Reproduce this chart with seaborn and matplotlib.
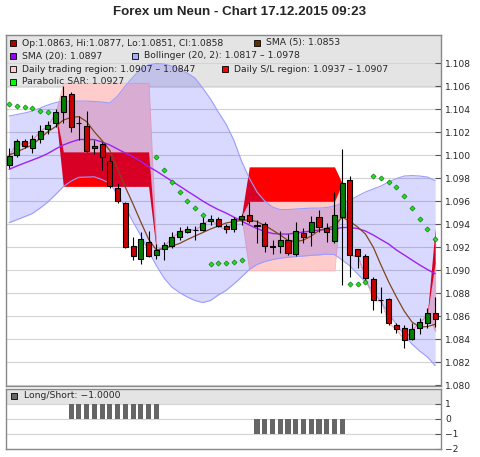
import numpy as np
import pandas as pd
import matplotlib
matplotlib.use("Agg")
import matplotlib.pyplot as plt
from matplotlib.patches import Rectangle
import seaborn as sns

sns.set_style("white")
plt.rcParams["font.family"] = ["DejaVu Sans"]

nan = np.nan

# Candles
opens = [1.09916, 1.10003, 1.10124, 1.10061, 1.10139, 1.10229, 1.10278, 1.10374, 1.10531, 1.10285,
         1.10257, 1.10063, 1.10096, 1.09950, 1.09713, 1.09585, 1.09211, 1.09095, 1.09246, 1.09133,
         1.09189, 1.09211, 1.09292, 1.09335, 1.09346, 1.09350, 1.09428, 1.09446, 1.09385, 1.09356,
         1.09443, 1.09481, 1.09392, 1.09400, 1.09215, 1.09211, 1.09263, 1.09141, 1.09321, 1.09335,
         1.09461, 1.09372, 1.09257, 1.09466, 1.09785, 1.09182, 1.09124, 1.08921, 1.08745, 1.08747,
         1.08524, 1.08495, 1.08399, 1.08495, 1.08538, 1.08630]
highs = [1.10061, 1.10139, 1.10142, 1.10177, 1.10264, 1.10298, 1.10400, 1.10603, 1.10548, 1.10342,
         1.10385, 1.10133, 1.10118, 1.09994, 1.09756, 1.09596, 1.09292, 1.09335, 1.09341, 1.09228,
         1.09246, 1.09335, 1.09374, 1.09385, 1.09385, 1.09489, 1.09481, 1.09461, 1.09402, 1.09466,
         1.09489, 1.09596, 1.09437, 1.09422, 1.09263, 1.09344, 1.09315, 1.09422, 1.09365, 1.09472,
         1.09524, 1.09408, 1.09683, 1.10052, 1.09820, 1.09185, 1.09141, 1.08939, 1.08857, 1.08756,
         1.08544, 1.08524, 1.08544, 1.08582, 1.08669, 1.08770]
lows = [1.09887, 1.09983, 1.10063, 1.10023, 1.10104, 1.10185, 1.10249, 1.10278, 1.10205, 1.10133,
        1.10029, 1.10011, 1.09872, 1.09713, 1.09588, 1.09193, 1.09089, 1.09052, 1.09115, 1.09098,
        1.09089, 1.09191, 1.09263, 1.09321, 1.09263, 1.09341, 1.09394, 1.09374, 1.09324, 1.09335,
        1.09394, 1.09408, 1.09237, 1.09161, 1.09141, 1.09147, 1.09133, 1.09124, 1.09234, 1.09211,
        1.09335, 1.09248, 1.09234, 1.08872, 1.08944, 1.09017, 1.08900, 1.08654, 1.08625, 1.08524,
        1.08451, 1.08321, 1.08393, 1.08443, 1.08495, 1.08510]
closes = [1.09996, 1.10124, 1.10081, 1.10139, 1.10214, 1.10261, 1.10374, 1.10518, 1.10249, 1.10277,
          1.10042, 1.10085, 1.09983, 1.09733, 1.09602, 1.09202, 1.09124, 1.09272, 1.09128, 1.09176,
          1.09217, 1.09287, 1.09341, 1.09356, 1.09353, 1.09408, 1.09446, 1.09385, 1.09356, 1.09443,
          1.09472, 1.09428, 1.09383, 1.09211, 1.09206, 1.09263, 1.09147, 1.09341, 1.09287, 1.09422,
          1.09374, 1.09333, 1.09481, 1.09756, 1.09133, 1.09124, 1.08930, 1.08741, 1.08737, 1.08538,
          1.08489, 1.08393, 1.08486, 1.08547, 1.08625, 1.08580]

# Indicators
sma5 = [1.10003, 1.10029, 1.10061, 1.10090, 1.10148, 1.10205, 1.10250, 1.10307, 1.10329, 1.10337,
        1.10294, 1.10205, 1.10129, 1.10042, 1.09881, 1.09724, 1.09576, 1.09420, 1.09272, 1.09176,
        1.09189, 1.09211, 1.09233, 1.09267, 1.09298, 1.09328, 1.09359, 1.09385, 1.09411, 1.09424,
        1.09433, 1.09437, 1.09424, 1.09389, 1.09350, 1.09307, 1.09259, 1.09248, 1.09263, 1.09298,
        1.09346, 1.09367, 1.09385, 1.09463, 1.09424, 1.09376, 1.09315, 1.09202, 1.09046, 1.08898,
        1.08767, 1.08645, 1.08550, 1.08506, 1.08510, 1.08530]
sma20 = [1.09878, 1.09907, 1.09933, 1.09959, 1.09985, 1.10016, 1.10055, 1.10090, 1.10116, 1.10137,
         1.10139, 1.10137, 1.10116, 1.10090, 1.10055, 1.10020, 1.09988, 1.09946, 1.09902, 1.09863,
         1.09820, 1.09776, 1.09733, 1.09689, 1.09646, 1.09602, 1.09563, 1.09528, 1.09498, 1.09463,
         1.09428, 1.09394, 1.09363, 1.09337, 1.09320, 1.09315, 1.09315, 1.09324, 1.09333, 1.09341,
         1.09350, 1.09354, 1.09359, 1.09372, 1.09372, 1.09363, 1.09341, 1.09307, 1.09267, 1.09228,
         1.09176, 1.09133, 1.09089, 1.09046, 1.09006, 1.08970]
bb_upper = [1.10342, 1.10355, 1.10368, 1.10385, 1.10411, 1.10438, 1.10459, 1.10472, 1.10472, 1.10472,
            1.10472, 1.10468, 1.10464, 1.10455, 1.10516, 1.10603, 1.10681, 1.10751, 1.10786, 1.10799,
            1.10794, 1.10777, 1.10751, 1.10716, 1.10672, 1.10585, 1.10490, 1.10377, 1.10272, 1.10133,
            1.09950, 1.09802, 1.09681, 1.09602, 1.09550, 1.09528, 1.09528, 1.09533, 1.09537, 1.09541,
            1.09541, 1.09546, 1.09559, 1.09585, 1.09611, 1.09646, 1.09681, 1.09707, 1.09733, 1.09768,
            1.09798, 1.09820, 1.09824, 1.09820, 1.09811, 1.09780]
bb_lower = [1.09414, 1.09440, 1.09466, 1.09494, 1.09541, 1.09594, 1.09659, 1.09728, 1.09776, 1.09809,
            1.09811, 1.09813, 1.09789, 1.09757, 1.09659, 1.09550, 1.09420, 1.09302, 1.09167, 1.09041,
            1.08932, 1.08854, 1.08806, 1.08767, 1.08737, 1.08719, 1.08737, 1.08785, 1.08824, 1.08880,
            1.08941, 1.09006, 1.09050, 1.09076, 1.09093, 1.09105, 1.09113, 1.09119, 1.09124, 1.09130,
            1.09134, 1.09141, 1.09137, 1.09089, 1.09037, 1.08967, 1.08898, 1.08815, 1.08724, 1.08624,
            1.08528, 1.08437, 1.08358, 1.08297, 1.08245, 1.08170]
sar = [1.10444, 1.10429, 1.10418, 1.10409, 1.10390, 1.10381, nan, nan, nan, nan,
       nan, nan, nan, nan, nan, nan, nan, nan, nan, 1.09985,
       1.09869, 1.09772, 1.09683, 1.09607, 1.09540, 1.09478, 1.09054, 1.09060, 1.09067, 1.09076,
       1.09089, nan, nan, nan, nan, nan, nan, nan, nan, nan,
       nan, nan, nan, nan, 1.08878, 1.08878, 1.08895, 1.09820, 1.09800, 1.09770,
       1.09722, 1.09646, 1.09539, 1.09443, 1.09356, 1.09270]
long_short = [0, 0, 0, 0, 0, 0, 0, 0, 1, 1, 1, 1, 1, 1, 1, 1, 1, 1, 1, 1,
              0, 0, 0, 0, 0, 0, 0, 0, 0, 0, 0, 0, -1, -1, -1, -1, -1, -1, -1, -1,
              -1, -1, -1, -1, 0, 0, 0, 0, 0, 0, 0, 0, 0, 0, 0, 0]

# Daily regions: first bar, last bar, trading region, S/L region
region_start = [7, 31, 55]
region_end = [18, 42, 55]
trade_hi = [1.1063, 1.0960, 1.0907]
trade_lo = [1.1003, 1.0900, 1.0847]
sl_hi = [1.1003, 1.0990, 1.0937]
sl_lo = [1.0973, 1.0960, 1.0907]

df = pd.DataFrame({"open": opens, "high": highs, "low": lows, "close": closes,
                   "sma5": sma5, "sma20": sma20, "bb_up": bb_upper, "bb_lo": bb_lower,
                   "sar": sar, "ls": long_short})
df["idx"] = np.arange(len(df))

# regions collapse onto the close where no region is set
for col in ["tr_hi", "tr_lo", "sl_hi", "sl_lo"]:
    df[col] = df["close"]
for s, e, th, tl, sh, sl in zip(region_start, region_end, trade_hi, trade_lo, sl_hi, sl_lo):
    df.loc[s:e, "tr_hi"] = th
    df.loc[s:e, "tr_lo"] = tl
    df.loc[s:e, "sl_hi"] = sh
    df.loc[s:e, "sl_lo"] = sl

W, H = 480, 457
fig = plt.figure(figsize=(W / 100, H / 100), dpi=100)
ax = fig.add_axes([6 / W, 1 - 386 / H, 435 / W, 351 / H])
ax2 = fig.add_axes([6 / W, 1 - 449 / H, 435 / W, 60.5 / H])

GRID = "#d4d4d4"
LEG_BG = "#e4e4e4"
SPINE = "#888888"

# ---- main panel
ax.axhspan(1.10585, 1.12, color=LEG_BG, lw=0, zorder=0)
ax.set_axisbelow(True)
ax.yaxis.grid(True, color=GRID, lw=0.8)

x = df["idx"]
ax.fill_between(x, df["tr_lo"], df["tr_hi"], facecolor="#ffcccc", edgecolor="#ffb8b8",
                lw=0.7, zorder=1)
ax.fill_between(x, df["sl_lo"], df["sl_hi"], facecolor="#ff0000", lw=0, zorder=1.1)
ax.fill_between(x, df["bb_lo"], df["bb_up"], color=(0, 0, 1), alpha=0.15, lw=0, zorder=2)
ax.plot(x, df["bb_up"], color="#9c9cff", lw=0.8, zorder=2.1)
ax.plot(x, df["bb_lo"], color="#9c9cff", lw=0.8, zorder=2.1)

sns.lineplot(x=x, y=df["sma20"], color="#a020f0", lw=1, ax=ax, zorder=3)
sns.lineplot(x=x, y=df["sma5"], color="#80461b", lw=0.9, ax=ax, zorder=3.1)

up = df["close"] >= df["open"]
body_lo = np.minimum(df["open"], df["close"])
body_h = (df["close"] - df["open"]).abs()
ax.vlines(x, df["low"], df["high"], color="black", lw=0.8, zorder=5)
ax.bar(x, body_h, bottom=body_lo, width=0.65, color=np.where(up, "#008000", "#cc0000"),
       edgecolor="black", lw=0.8, zorder=6)

sns.scatterplot(x=x, y=df["sar"], marker="D", s=7, color="#22dd22", edgecolor="#006600",
                linewidth=0.4, ax=ax, zorder=7)

ax.set_xlim(-0.4, 55.75)
ax.set_ylim(1.07993, 1.11047)
yt = np.arange(1.080, 1.1085, 0.002)
ax.set_yticks(yt)
ax.set_yticklabels([f"{v:.3f}" for v in yt])
ax.yaxis.tick_right()
ax.tick_params(axis="y", direction="in", length=4, width=0.8, color="#555555",
               labelsize=6.6, pad=3, right=True)
ax.set_xticks([])
ax.set_xlabel("")
ax.set_ylabel("")
for sp in ax.spines.values():
    sp.set_color(SPINE)
    sp.set_linewidth(1)

# ---- long/short panel
ax2.axhspan(1, 2, color=LEG_BG, lw=0, zorder=0)
ax2.set_axisbelow(True)
ax2.yaxis.grid(True, color=GRID, lw=0.8)
ax2.bar(x, df["ls"], width=0.65, color="#666666", lw=0, zorder=3)
ax2.set_xlim(-0.4, 55.75)
ax2.set_ylim(-2, 2)
ax2.set_yticks([-2, -1, 0, 1])
ax2.set_yticklabels(["\u22122", "\u22121", "0", "1"])
ax2.yaxis.tick_right()
ax2.tick_params(axis="y", direction="in", length=4, width=0.8, color="#555555",
                labelsize=6.6, pad=3, right=True)
ax2.set_xticks([])
for sp in ax2.spines.values():
    sp.set_color(SPINE)
    sp.set_linewidth(1)

# ---- title and legends
fig.text(0.5, 1 - 12 / H, "Forex um Neun - Chart 17.12.2015 09:23", ha="center", va="center",
         fontsize=9.6, fontweight="bold", family="Liberation Sans")


def legend_item(sx, sy, color, label):
    fig.add_artist(Rectangle((sx / W, 1 - (sy + 3) / H), 6 / W, 6 / H, facecolor=color,
                             edgecolor="black", lw=0.6, transform=fig.transFigure))
    fig.text((sx + 12.5) / W, 1 - sy / H, label, ha="left", va="center", fontsize=6.7)


legend_item(10, 43, "#b00000", "Op:1.0863, Hi:1.0877, Lo:1.0851, Cl:1.0858")
legend_item(254, 43, "#603000", "SMA (5): 1.0853")
legend_item(10, 56, "#9900ff", "SMA (20): 1.0897")
legend_item(132, 56, "#aaaaff", "Bollinger (20, 2): 1.0817 \u2013 1.0978")
legend_item(10, 69, "#ffcccc", "Daily trading region: 1.0907 \u2013 1.0847")
legend_item(221.5, 69, "#ff0000", "Daily S/L region: 1.0937 \u2013 1.0907")
legend_item(10, 82, "#00ff00", "Parabolic SAR: 1.0927")
legend_item(11, 395.5, "#666666", "Long/Short: \u22121.0000")

fig.savefig("out.png", dpi=100)
